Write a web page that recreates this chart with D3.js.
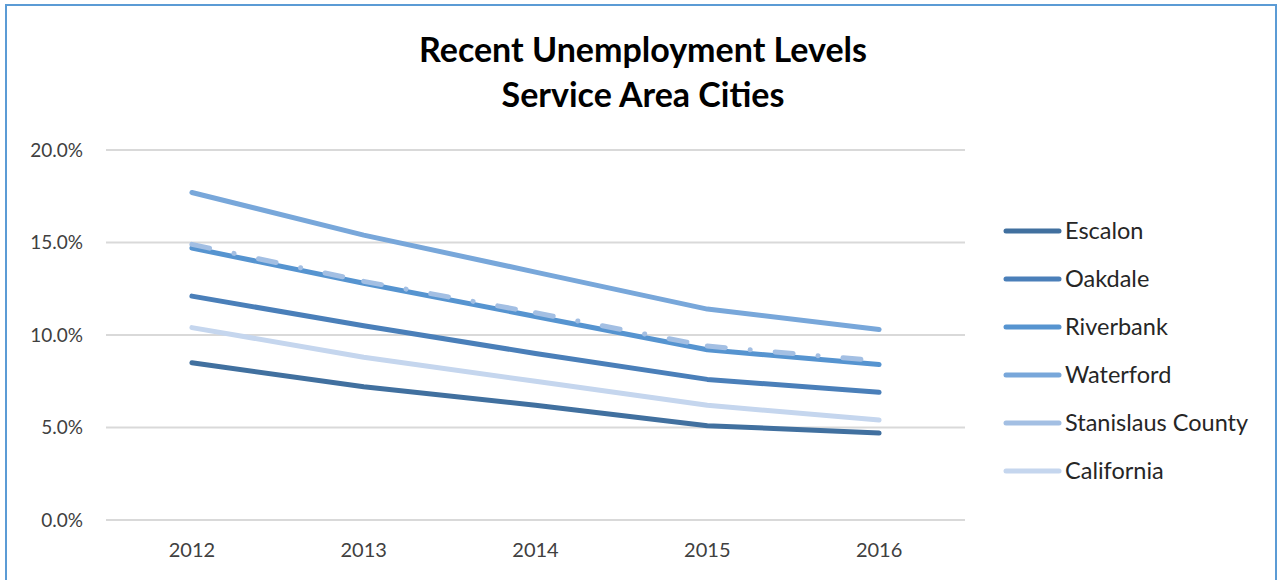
<!DOCTYPE html>
<html><head><meta charset="utf-8">
<script src="https://cdn.jsdelivr.net/npm/d3@7/dist/d3.min.js"></script>
<style>body{margin:0;background:#fff}svg{display:block}</style>
</head><body>
<script>
const years = ["2012","2013","2014","2015","2016"];
const seriesNames = ["Escalon","Oakdale","Riverbank","Waterford","Stanislaus County","California"];
const escalon = [8.5, 7.2, 6.2, 5.1, 4.7];
const oakdale = [12.1, 10.5, 9.0, 7.6, 6.9];
const riverbank = [14.7, 12.8, 11.0, 9.2, 8.4];
const waterford = [17.7, 15.4, 13.4, 11.4, 10.3];
const stanislaus = [14.9, 12.9, 11.2, 9.4, 8.6];
const california = [10.4, 8.8, 7.5, 6.2, 5.4];
const yTicks = [0, 5, 10, 15, 20];
const colors = ["#41709F","#4A7FB9","#5694D0","#78A7DA","#A3BFE3","#C5D6EE"];
const values = [escalon, oakdale, riverbank, waterford, stanislaus, california];

const W = 1281, H = 580;
const svg = d3.select("body").append("svg").attr("width", W).attr("height", H);
const font = "Lato, 'Open Sans', sans-serif";

svg.append("rect").attr("x", 6).attr("y", 5).attr("width", 1270).attr("height", 600)
  .attr("fill", "#fff").attr("stroke", "#5B9BD5").attr("stroke-width", 2);

const x = d3.scaleBand().domain(years).range([106, 965]);
const y = d3.scaleLinear().domain([0, 20]).range([520, 150]);

// gridlines
svg.append("g").selectAll("line").data(yTicks).join("line")
  .attr("x1", 106).attr("x2", 965)
  .attr("y1", d => y(d)).attr("y2", d => y(d))
  .attr("stroke", "#D9D9D9").attr("stroke-width", 2);

// y axis labels
const yAxis = d3.axisLeft(y).tickValues(yTicks).tickSize(0).tickPadding(0)
  .tickFormat(d => d.toFixed(1) + "%");
const gy = svg.append("g").attr("transform", "translate(83,0)").call(yAxis);
gy.select(".domain").remove();
gy.selectAll("text").attr("font-family", font).attr("font-size", 19).attr("fill", "#404040");

// x axis labels
const xAxis = d3.axisBottom(x).tickSize(0).tickPadding(0);
const gx = svg.append("g").attr("transform", "translate(0,543)").call(xAxis);
gx.select(".domain").remove();
gx.selectAll("text").attr("font-family", font).attr("font-size", 20).attr("fill", "#404040");

const cx = d => x(d) + x.bandwidth() / 2;
const line = d3.line().x((d, i) => cx(years[i])).y(d => y(d));

values.forEach((vals, si) => {
  if (si === 4) {
    // dash-dot, restarting at each point
    for (let i = 0; i < vals.length - 1; i++) {
      svg.append("path")
        .attr("d", d3.line()([[cx(years[i]), y(vals[i])], [cx(years[i+1]), y(vals[i+1])]]))
        .attr("fill", "none").attr("stroke", colors[si]).attr("stroke-width", 5)
        .attr("stroke-linecap", "round").attr("stroke-dasharray", "18,25,0.1,25");
    }
  } else {
    svg.append("path").datum(vals).attr("d", line)
      .attr("fill", "none").attr("stroke", colors[si]).attr("stroke-width", 5)
      .attr("stroke-linecap", "round").attr("stroke-linejoin", "round");
  }
});

// legend
const lg = svg.append("g");
seriesNames.forEach((name, i) => {
  const ly = 231 + i * 48;
  lg.append("line").attr("x1", 1006).attr("x2", 1059).attr("y1", ly).attr("y2", ly)
    .attr("stroke", colors[i]).attr("stroke-width", 5).attr("stroke-linecap", "round");
  lg.append("text").attr("x", 1065).attr("y", ly).attr("dy", "0.35em")
    .attr("font-family", font).attr("font-size", 23.5).attr("fill", "#262626").text(name);
});

// title
const t = svg.append("text").attr("text-anchor", "middle").attr("font-family", font)
  .attr("font-weight", "bold").attr("font-size", 34).attr("fill", "#000");
t.append("tspan").attr("x", 643).attr("y", 62).text("Recent Unemployment Levels");
t.append("tspan").attr("x", 643).attr("y", 107).text("Service Area Cities");
</script>
</body></html>
